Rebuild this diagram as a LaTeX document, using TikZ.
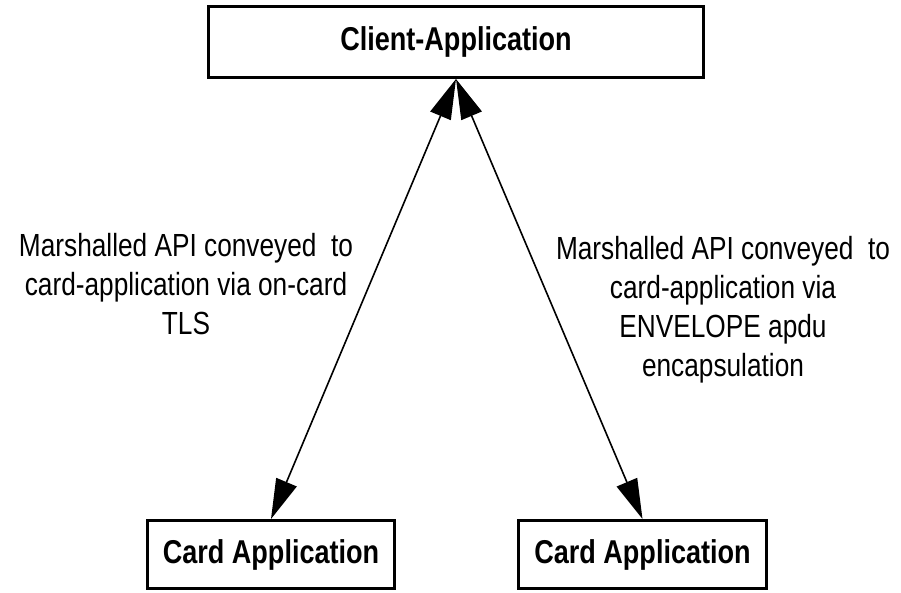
\documentclass[tikz,border=0pt]{standalone}
\usepackage{fontspec}
\setmainfont{Liberation Sans}[FakeStretch=0.82]
\usetikzlibrary{arrows.meta}

\begin{document}
\begin{tikzpicture}[<->,>={Triangle[length=40pt,width=22pt]},x=1pt,y=1pt,
                    line width=1.6pt,node distance=512.5pt,
                    box/.style={draw,line width=3pt,minimum height=68pt,
                      font=\bfseries\fontsize{33}{40}\selectfont},
                    note/.style={align=center,font=\fontsize{32}{39}\selectfont}]

  \useasboundingbox (0,0) rectangle (901,592);

  \node[box,minimum width=495pt,minimum height=71pt] (client) at (456,550) {Client-Application};
  \node[box,minimum width=247pt] (cardA) [below of=client,xshift=-185pt] {Card Application};
  \node[box,minimum width=248pt] (cardB) [below of=client,xshift=186.5pt] {Card Application};

  \node[note] (noteA) at (186,307.5) {Marshalled API conveyed\ \ to\\card-application via on-card\\TLS};
  \node[note] (noteB) at (723,282.5) {Marshalled API conveyed\ \ to\\card-application via\\ENVELOPE apdu\\encapsulation};

  \path (cardA.north) edge (client.south);
  \path (cardB.north) edge (client.south);
\end{tikzpicture}
\end{document}
